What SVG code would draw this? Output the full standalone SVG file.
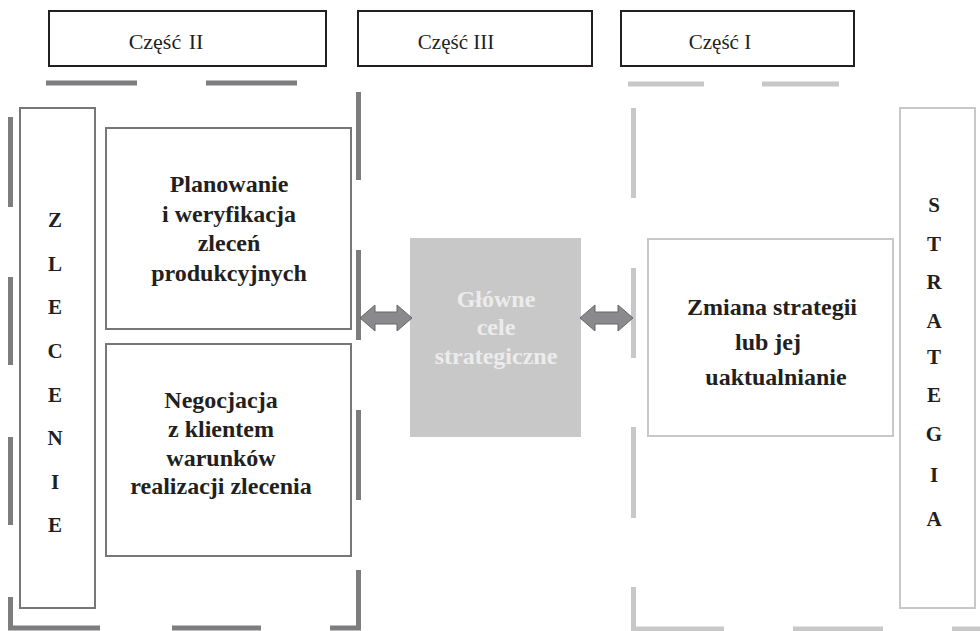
<svg xmlns="http://www.w3.org/2000/svg" width="980" height="631" viewBox="0 0 980 631">
<style>
.hdr{fill:#fff;stroke:#231f20;stroke-width:2}
.hdrt{font-family:'Liberation Serif','Times New Roman',Times,'DejaVu Serif',serif;font-size:21px;fill:#231f20;text-anchor:middle}
.bt{font-family:'Liberation Serif','Times New Roman',Times,'DejaVu Serif',serif;font-size:24px;font-weight:bold;fill:#231f20;text-anchor:middle}
.lt{font-family:'Liberation Serif','Times New Roman',Times,'DejaVu Serif',serif;font-size:21px;font-weight:bold;fill:#231f20;text-anchor:middle}
.dk{stroke:#7d7d7f;stroke-width:5;fill:none}
.lg{stroke:#c8c8c9;stroke-width:5;fill:none}
.bxd{fill:#fff;stroke:#77777a;stroke-width:2}
.bxl{fill:#fff;stroke:#c8c8c9;stroke-width:2}
.arr{fill:#8a8a8c;stroke:#67676a;stroke-width:1}
</style>
<rect width="980" height="631" fill="#fff"/>

<g id="frame-left">
<path class="dk" d="M46,83H137M206,83H297"/>
<path class="dk" d="M10.5,117V207M10.5,277V365M10.5,437V525M10.5,597V628H100M172,628H261M330,628H358.5V570M358.5,500V410M358.5,340V250M358.5,180V92"/>
</g>
<g id="frame-right">
<path class="lg" d="M628,84H704M762,84H839"/>
<path class="lg" d="M633.5,108V198M633.5,268V358M633.5,427V518M633.5,587V629H724M793,629H883M952,629H980"/>
</g>

<g id="hdr-2"><rect class="hdr" x="49" y="11" width="277" height="55"/><text class="hdrt" x="166" y="49" style="font-size:22px;word-spacing:2px">Część II</text></g>
<g id="hdr-3"><rect class="hdr" x="358" y="11" width="234" height="55"/><text class="hdrt" x="456" y="49">Część III</text></g>
<g id="hdr-1"><rect class="hdr" x="621" y="11" width="233" height="55"/><text class="hdrt" x="720" y="49">Część I</text></g>

<g id="zlecenie">
<rect class="bxd" x="20" y="108" width="75" height="500"/>
<text class="lt" x="55" y="227">Z</text>
<text class="lt" x="55" y="271">L</text>
<text class="lt" x="55" y="314">E</text>
<text class="lt" x="55" y="358">C</text>
<text class="lt" x="55" y="402">E</text>
<text class="lt" x="55" y="445">N</text>
<text class="lt" x="55" y="489">I</text>
<text class="lt" x="55" y="532">E</text>
</g>

<g id="planowanie">
<rect class="bxd" x="106" y="128" width="245" height="201"/>
<text class="bt" x="229" y="192">Planowanie</text>
<text class="bt" x="229" y="221.5">i weryfikacja</text>
<text class="bt" x="229" y="251">zleceń</text>
<text class="bt" x="229" y="280.5">produkcyjnych</text>
</g>

<g id="negocjacja">
<rect class="bxd" x="106" y="344" width="245" height="212"/>
<text class="bt" x="221" y="408">Negocjacja</text>
<text class="bt" x="221" y="437">z klientem</text>
<text class="bt" x="221" y="466">warunków</text>
<text class="bt" x="221" y="494">realizacji zlecenia</text>
</g>

<g id="cele">
<rect x="410" y="238" width="171" height="199" fill="#c8c8c9"/>
<text class="bt" x="496" y="307" style="fill:#ececec">Główne</text>
<text class="bt" x="496" y="335" style="fill:#ececec">cele</text>
<text class="bt" x="496" y="364" style="fill:#ececec">strategiczne</text>
</g>

<g id="zmiana">
<rect class="bxl" x="648" y="239" width="245" height="197"/>
<text class="bt" x="772" y="315">Zmiana strategii</text>
<text class="bt" x="768" y="350">lub jej</text>
<text class="bt" x="776" y="385">uaktualnianie</text>
</g>

<g id="strategia">
<rect class="bxl" x="900" y="108" width="75" height="500"/>
<text class="lt" x="934" y="212">S</text>
<text class="lt" x="934" y="251">T</text>
<text class="lt" x="934" y="289">R</text>
<text class="lt" x="934" y="328">A</text>
<text class="lt" x="934" y="364">T</text>
<text class="lt" x="934" y="402">E</text>
<text class="lt" x="934" y="441">G</text>
<text class="lt" x="934" y="482">I</text>
<text class="lt" x="934" y="526">A</text>
</g>

<g id="connectors">
<polygon class="arr" points="360,318 375,305 375,312 397,312 397,305 412,318 397,331 397,324 375,324 375,331"/>
<polygon class="arr" points="580,318 595,305 595,312 618,312 618,305 633,318 618,331 618,324 595,324 595,331"/>
</g>
</svg>
